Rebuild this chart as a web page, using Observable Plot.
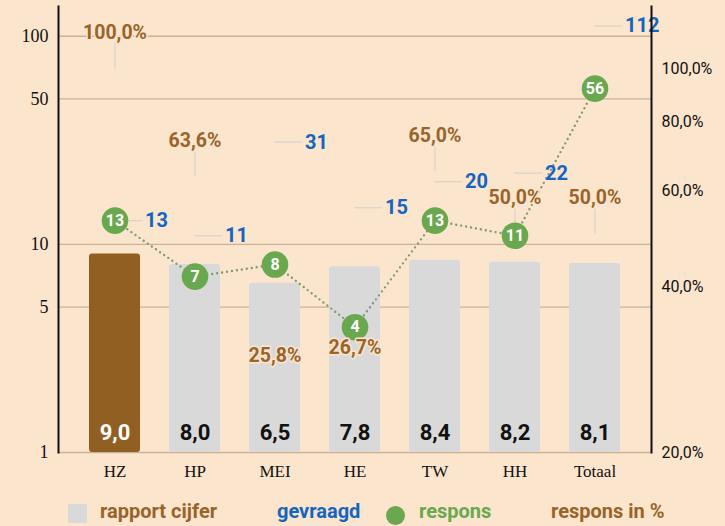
<!DOCTYPE html>
<html>
<head>
<meta charset="utf-8">
<script src="https://cdn.jsdelivr.net/npm/d3@7"></script>
<script src="https://cdn.jsdelivr.net/npm/@observablehq/plot@0.6"></script>
<style>
  html, body { margin: 0; padding: 0; background: #fce5cd; }
  #wrap { position: relative; width: 725px; height: 526px; background: #fce5cd; overflow: hidden; }
  #legend { position: absolute; left: 0; top: 498px; width: 725px; height: 28px; font-family: Roboto, sans-serif; font-weight: 700; font-size: 20px; }
  #legend .it { position: absolute; top: 3px; line-height: 20px; white-space: nowrap; }
  #legend .sw { position: absolute; }
</style>
</head>
<body>
<div id="wrap">
  <div id="chart"></div>
  <div id="legend"></div>
</div>
<script>
const categories = ["HZ", "HP", "MEI", "HE", "TW", "HH", "Totaal"];
const rapportCijfer = [9.0, 8.0, 6.5, 7.8, 8.4, 8.2, 8.1];
const gevraagd = [13, 11, 31, 15, 20, 22, 112];
const respons = [13, 7, 8, 4, 13, 11, 56];
const responsPct = [100.0, 63.6, 25.8, 26.7, 65.0, 50.0, 50.0];
const leftTicks = [1, 5, 10, 50, 100];
const rightTicks = [20, 40, 60, 80, 100];
const legendLabels = ["rapport cijfer", "gevraagd", "respons", "respons in %"];

const BG = "#fce5cd", BROWN_BAR = "#925f22", BROWN = "#98642a", BLUE = "#1565c0",
      GREEN = "#6aa84f", GREY = "#d9d9d9", GRID = "#c9b298", LEAD = "#d6d2cd";

// right axis (percent, log) mapped onto left log scale
const k = 549 / 208.1;
const toLeft = p => Math.pow(p / 20, k);
const comma = (v, d) => v.toFixed(d).replace(".", ",");

const data = categories.map((c, i) => ({
  cat: c, rc: rapportCijfer[i], gev: gevraagd[i], resp: respons[i],
  pct: responsPct[i], pv: toLeft(responsPct[i])
}));
const rightAxis = rightTicks.map(p => ({p, v: toLeft(p)}));

const chart = Plot.plot({
  width: 725, height: 494,
  marginTop: 6, marginBottom: 42, marginLeft: 58, marginRight: 74,
  x: {domain: categories, paddingInner: 0.368, paddingOuter: 0.36, label: null},
  y: {type: "log", domain: [1, 139], label: null},
  style: {background: "transparent", fontFamily: "Roboto, sans-serif", overflow: "visible", color: "#222"},
  marks: [
    Plot.ruleY(leftTicks, {stroke: GRID, strokeWidth: 1.3}),
    // leader lines (behind bars)
    Plot.tickY(data, {x: "cat", y: "gev", insetLeft: 25.5, insetRight: -2, stroke: LEAD, strokeWidth: 1.2}),
    Plot.ruleX(data, {x: "cat", y1: "pv", y2: "pv", insetTop: -25, stroke: LEAD, strokeWidth: 1.2}),
    Plot.barY(data, {x: "cat", y1: 1, y2: "rc", fill: d => d.cat === "HZ" ? BROWN_BAR : GREY, rx: 3}),
    Plot.text(data, {x: "cat", y: 1, dy: -20, text: d => comma(d.rc, 1),
      fill: d => d.cat === "HZ" ? "#ffffff" : "#111111", fontSize: 22, fontWeight: 700}),
    // respons line + dots
    Plot.line(data, {x: "cat", y: "resp", stroke: "#7f9c6c", strokeWidth: 2.4, strokeDasharray: "0,5", strokeLinecap: "round"}),
    Plot.dot(data, {x: "cat", y: "resp", r: 13.3, fill: GREEN, stroke: null}),
    Plot.text(data, {x: "cat", y: "resp", text: d => String(d.resp), fill: "#fff", fontSize: 16, fontWeight: 700}),
    // gevraagd labels
    Plot.text(data, {x: "cat", y: "gev", dx: 30, textAnchor: "start", text: d => String(d.gev),
      fill: BLUE, fontSize: 20, fontWeight: 700}),
    // percent labels
    Plot.text(data, {x: "cat", y: "pv", dy: -36, text: d => comma(d.pct, 1) + "%",
      fill: BROWN, fontSize: 19.5, fontWeight: 700, stroke: BG, strokeWidth: 3, paintOrder: "stroke"}),
    // axes
    Plot.axisY({anchor: "left", ticks: leftTicks, tickFormat: d => String(d), tickSize: 0, tickPadding: 10,
      fontFamily: "Liberation Serif, serif", fontSize: 18, fill: "#111"}),
    Plot.text(rightAxis, {y: "v", frameAnchor: "right", dx: 10, textAnchor: "start",
      text: d => comma(d.p, 1) + "%", fontSize: 16, fill: "#111"}),
    Plot.axisX({tickSize: 0, tickPadding: 12, fontFamily: "Liberation Serif, serif", fontSize: 17, fill: "#111"}),
    Plot.frame({anchor: "left", stroke: "#111", strokeWidth: 2}),
    Plot.frame({anchor: "right", stroke: "#111", strokeWidth: 2})
  ]
});
document.getElementById("chart").appendChild(chart);

// legend
const lg = document.getElementById("legend");
const items = [
  {sw: {left: 68, top: 6, size: 19, color: GREY, round: false}, text: legendLabels[0], left: 100, color: BROWN},
  {text: legendLabels[1], left: 277, color: BLUE},
  {sw: {left: 386, top: 8, size: 19, color: GREEN, round: true}, text: legendLabels[2], left: 419, color: GREEN},
  {text: legendLabels[3], left: 551, color: BROWN}
];
for (const it of items) {
  if (it.sw) {
    const s = document.createElement("div");
    s.className = "sw";
    s.style.left = it.sw.left + "px";
    s.style.top = it.sw.top + "px";
    s.style.width = it.sw.size + "px";
    s.style.height = it.sw.size + "px";
    s.style.background = it.sw.color;
    if (it.sw.round) s.style.borderRadius = "50%";
    lg.appendChild(s);
  }
  const t = document.createElement("div");
  t.className = "it";
  t.style.left = it.left + "px";
  t.style.color = it.color;
  t.textContent = it.text;
  lg.appendChild(t);
}
</script>
</body>
</html>
